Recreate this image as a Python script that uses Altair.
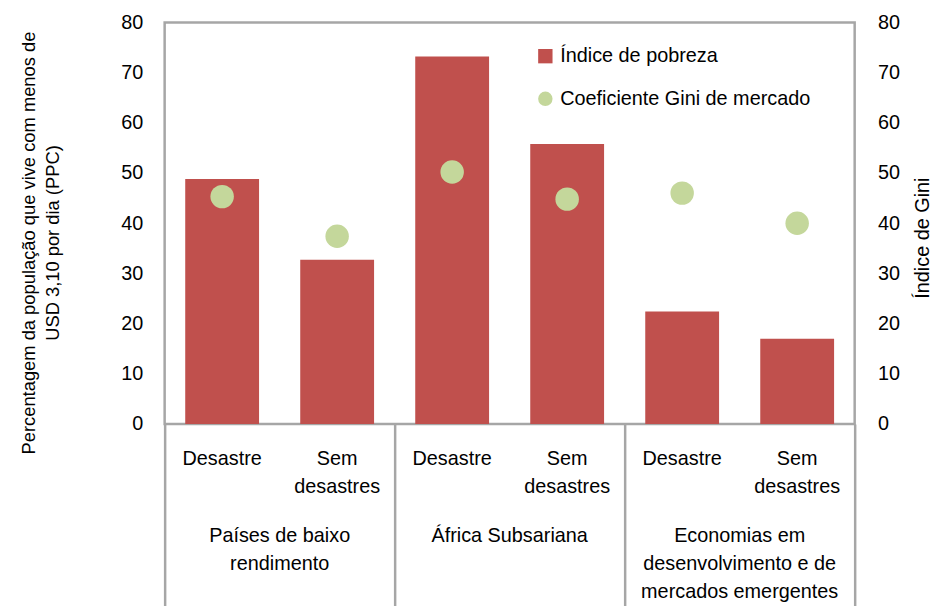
import altair as alt
import pandas as pd

# ---- data ----
grupos = ["Países de baixo\nrendimento", "África Subsariana",
          "Economias em\ndesenvolvimento e de\nmercados emergentes"]
subcats = ["Desastre", "Sem\ndesastres"]
pobreza = [48.8, 32.7, 73.2, 55.8, 22.4, 17.0]
gini = [45.3, 37.4, 50.2, 44.8, 46.0, 40.0]
series = ["Índice de pobreza", "Coeficiente Gini de mercado"]
yticks = [0, 10, 20, 30, 40, 50, 60, 70, 80]
fronteiras = [0, 1, 2, 3]

RED = "#C0504D"
GREEN = "#C4D79B"
GRAY = "#A6A6A6"
FONT = "Liberation Sans, Arial"
FS = 20

labels = [subcats[i % 2] for i in range(6)]
df = pd.DataFrame({
    "idx": list(range(6)),
    "grupo": [grupos[i // 2] for i in range(6)],
    "sub": labels,
    "pobreza": pobreza,
    "gini": gini,
    "s_bar": [series[0]] * 6,
    "s_pt": [series[1]] * 6,
})
df_g = pd.DataFrame({"grupo": grupos})
df_b = pd.DataFrame({"b": fronteiras})

label_arr = "[" + ",".join("'" + l.replace("\n", "|") + "'" for l in labels) + "]"
sub_expr = "split(" + label_arr + "[datum.value], '|')"

x_band = alt.Scale(paddingInner=0.358, paddingOuter=0.179)
ydom = alt.Scale(domain=[0, 80], nice=False)
color_scale = alt.Scale(domain=series, range=[RED, GREEN])
shape_scale = alt.Scale(domain=series, range=["square", "circle"])

legend = alt.Legend(title=None, orient="none", legendX=374, legendY=24,
                    labelFontSize=FS, labelFont=FONT, labelColor="#000",
                    labelLimit=400,
                    symbolSize=210, rowPadding=23, labelOffset=5,
                    symbolOpacity=1, symbolStrokeWidth=0)

bars = alt.Chart(df).mark_bar(color=RED, opacity=1).encode(
    x=alt.X("idx:O", scale=x_band, title=None,
            axis=alt.Axis(labelExpr=sub_expr, labelAngle=0, ticks=False, domain=False,
                          labelPadding=25, labelLineHeight=28, labelFontSize=FS,
                          labelFont=FONT, labelColor="#000", labelBaseline="top")),
    y=alt.Y("pobreza:Q", scale=ydom,
            axis=alt.Axis(values=yticks, grid=False, ticks=False, domain=False,
                          labelPadding=22, labelFontSize=FS, labelFont=FONT,
                          labelColor="#000",
                          title=["Percentagem  da população  que vive com menos de",
                                 "USD 3,10 por dia (PPC)"],
                          titleFont=FONT, titleFontSize=18.5, titleFontWeight="normal",
                          titleColor="#000", titleAngle=270, titleAlign="center",
                          titleBaseline="top", titleX=-146, titleY=222,
                          titleLineHeight=24)),
    color=alt.Color("s_bar:N", scale=color_scale, legend=legend),
)

points = alt.Chart(df).mark_point(filled=True, size=560, opacity=1, strokeWidth=0).encode(
    x=alt.X("idx:O", scale=x_band, axis=None),
    y=alt.Y("gini:Q", scale=ydom,
            axis=alt.Axis(orient="right", values=yticks, grid=False, ticks=False,
                          domain=False, labelPadding=23, labelFontSize=FS,
                          labelFont=FONT, labelColor="#000",
                          title="Índice de Gini", titleFont=FONT, titleFontSize=20,
                          titleFontWeight="normal", titleColor="#000",
                          titleAngle=270, titleAlign="center",
                          titleBaseline="alphabetic", titleX=74, titleY=217)),
    color=alt.Color("s_pt:N", scale=color_scale, legend=legend),
    shape=alt.Shape("s_pt:N", scale=shape_scale, legend=legend),
)

group_layer = alt.Chart(df_g).mark_tick(opacity=0).encode(
    x=alt.X("grupo:N", sort=grupos, scale=alt.Scale(paddingInner=0, paddingOuter=0),
            title=None,
            axis=alt.Axis(orient="bottom", labelExpr="split(datum.label, '\\n')",
                          labelAngle=0, ticks=False, domain=False, labelPadding=103,
                          labelLineHeight=28, labelFontSize=FS, labelFont=FONT,
                          labelColor="#000", labelBaseline="top", labelLimit=400)),
)

divider_layer = alt.Chart(df_b).mark_tick(opacity=0).encode(
    x=alt.X("b:Q", scale=alt.Scale(domain=[0, 3], nice=False, zero=False), title=None,
            axis=alt.Axis(orient="bottom", values=fronteiras, labels=False, ticks=True,
                          tickSize=185, tickColor=GRAY, tickWidth=2.5, domain=False,
                          grid=False)),
)

chart = alt.layer(bars, points, group_layer, divider_layer).resolve_scale(
    x="independent", y="independent"
).properties(
    width=696, height=405,
    autosize=alt.AutoSizeParams(type="none"),
    padding={"left": 158, "top": 12, "right": 78, "bottom": 181},
).configure_view(
    stroke=GRAY, strokeWidth=2.5
)

chart.save("out.html", embed_options={"renderer": "svg", "actions": False})
